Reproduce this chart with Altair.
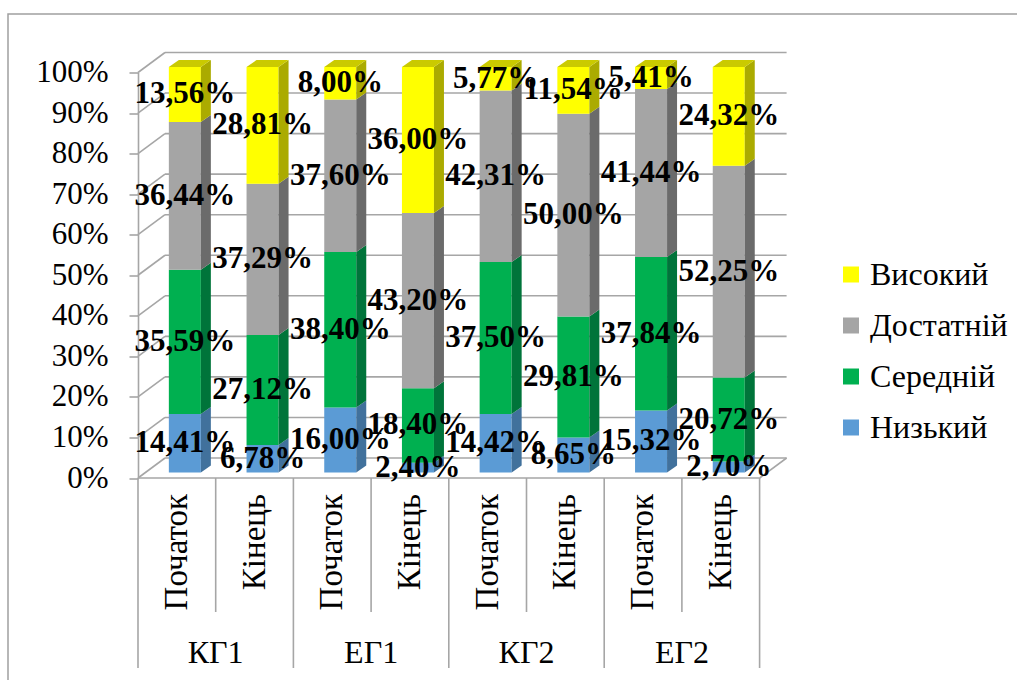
import altair as alt
import pandas as pd

# ---- data -------------------------------------------------------------
groups = ["КГ1", "ЕГ1", "КГ2", "ЕГ2"]
stages = ["Початок", "Кінець"]
levels = ["Низький", "Середній", "Достатній", "Високий"]  # stacking order, bottom -> top

low = [14.41, 6.78, 16.00, 2.40, 14.42, 8.65, 15.32, 2.70]
middle = [35.59, 27.12, 38.40, 18.40, 37.50, 29.81, 37.84, 20.72]
sufficient = [36.44, 37.29, 37.60, 43.20, 42.31, 50.00, 41.44, 52.25]
high = [13.56, 28.81, 8.00, 36.00, 5.77, 11.54, 5.41, 24.32]

y_ticks = list(range(0, 101, 10))

# ---- style ------------------------------------------------------------
front_colors = ["#5B9BD5", "#00B050", "#A5A5A5", "#FFFF00"]
side_colors = ["#41719C", "#00743A", "#6B6B6B", "#ABAB00"]
top_color = "#CACA00"
grid_color = "#A6A6A6"
FONT = "Times New Roman, Liberation Serif, serif"

W, H = 621.6, 405.5          # plot area (front plane of the 3-D box)
LEFT, TOP = 138, 72.5
BAR_DX, BAR_DY = 8, -5.5     # bars sit a little behind the front plane
WALL_DX, WALL_DY = 27, -20   # back wall offset
HALF = 0.206                 # half bar width, category units
DEPTH_X = 10 / 77.7          # bar depth, category units
DEPTH_Y = 7 / 4.055          # bar depth, percent units

series = [low, middle, sufficient, high]
n_bars = len(low)

# ---- derived tables ---------------------------------------------------
seg_rows, side_rows, label_rows = [], [], []
for i in range(n_bars):
    c = i + 0.5
    l, r = c - HALF, c + HALF
    base = 0.0
    for k, name in enumerate(levels):
        v = series[k][i]
        lo, hi = base, base + v
        base = hi
        seg_rows.append(dict(bar=i, level=name, order=k, l=l, r=r, lo=lo, hi=hi))
        label_rows.append(dict(x=c, y=(lo + hi) / 2,
                               text=f"{v:.2f}".replace(".", ",") + "%"))
        sid = f"s{i}_{k}"
        side_rows.append(dict(seg=sid, x=r, y=lo, y2=hi, shade=side_colors[k]))
        side_rows.append(dict(seg=sid, x=r + DEPTH_X, y=lo + DEPTH_Y,
                              y2=hi + DEPTH_Y, shade=side_colors[k]))
    # top face of the column
    tid = f"t{i}"
    for x, y, y2 in [(l, base, base), (l + DEPTH_X, base, base + DEPTH_Y),
                     (r, base, base + DEPTH_Y), (r + DEPTH_X, base + DEPTH_Y, base + DEPTH_Y)]:
        side_rows.append(dict(seg=tid, x=x, y=y, y2=y2, shade=top_color))

segs = pd.DataFrame(seg_rows)
sides = pd.DataFrame(side_rows)
labels = pd.DataFrame(label_rows)
grid = pd.DataFrame({"v": y_ticks, "x0": 0, "x1": n_bars})
floor = pd.DataFrame({"x0": [0], "x1": [n_bars], "v": [0]})

stage_df = pd.DataFrame({"x": [i + 0.5 for i in range(n_bars)],
                         "text": [stages[i % 2] for i in range(n_bars)]})
group_df = pd.DataFrame({"x": [2 * g + 1 for g in range(len(groups))], "text": groups})
outer_sep = pd.DataFrame({"x": list(range(0, n_bars + 1, 2))})
inner_sep = pd.DataFrame({"x": list(range(1, n_bars, 2))})

xs = alt.Scale(domain=[0, n_bars], nice=False, zero=False)
ys = alt.Scale(domain=[0, 100], nice=False, zero=True)

# one shared percent axis on the front-left edge
y_axis = alt.Axis(
    values=y_ticks, labelExpr="datum.value + '%'", title=None, grid=False,
    domainColor=grid_color, domainWidth=1.6, tickColor=grid_color, tickWidth=1.6,
    tickSize=9, labelPadding=21, labelFont=FONT, labelFontSize=31,
    labelColor="black")


def X(field):
    return alt.X(field, scale=xs, axis=None)


def Y(field, **kw):
    return alt.Y(field, scale=ys, axis=y_axis, **kw)


legend_order = levels[::-1]
legend_colors = front_colors[::-1]

# ---- layers -----------------------------------------------------------
back_grid = alt.Chart(grid).mark_rule(
    color=grid_color, strokeWidth=1.6,
    xOffset=WALL_DX, x2Offset=WALL_DX, yOffset=WALL_DY,
).encode(x=X("x0:Q"), x2="x1:Q", y=Y("v:Q"))

side_grid = alt.Chart(grid).mark_rule(
    color=grid_color, strokeWidth=1.6, x2Offset=WALL_DX, y2Offset=WALL_DY,
).encode(x=X("x0:Q"), x2="x0:Q", y=Y("v:Q"), y2="v:Q")

floor_front = alt.Chart(floor).mark_rule(color=grid_color, strokeWidth=1.6).encode(
    x=X("x0:Q"), x2="x1:Q", y=Y("v:Q"))

floor_right = alt.Chart(floor).mark_rule(
    color=grid_color, strokeWidth=1.6, x2Offset=WALL_DX, y2Offset=WALL_DY,
).encode(x=X("x1:Q"), x2="x1:Q", y=Y("v:Q"), y2="v:Q")

bars = alt.Chart(segs).mark_rect(
    xOffset=BAR_DX, x2Offset=BAR_DX, yOffset=BAR_DY, y2Offset=BAR_DY,
).encode(
    x=X("l:Q"), x2="r:Q",
    y=Y("lo:Q"), y2="hi:Q",
    color=alt.Color("level:N", scale=alt.Scale(domain=legend_order, range=legend_colors),
                    legend=alt.Legend(
                        title=None, orient="none", legendX=697, legendY=186,
                        symbolType="square", symbolSize=256, symbolStrokeWidth=0,
                        labelFont=FONT, labelFontSize=32, labelColor="black",
                        rowPadding=19, labelOffset=3, padding=0)),
)

faces = alt.Chart(sides).mark_area(
    xOffset=BAR_DX, yOffset=BAR_DY, y2Offset=BAR_DY,
).encode(
    x=X("x:Q"), y=Y("y:Q", stack=None), y2="y2:Q",
    detail="seg:N",
    color=alt.Color("shade:N", scale=None, legend=None),
)

value_labels = alt.Chart(labels).mark_text(
    font=FONT, fontSize=31, fontWeight="bold", color="black",
    dx=BAR_DX, dy=BAR_DY, baseline="middle", align="center",
).encode(x=X("x:Q"), y=Y("y:Q"), text="text:N")

outer_lines = alt.Chart(outer_sep).mark_rule(color=grid_color, strokeWidth=1.6).encode(
    x=X("x:Q"), y=alt.value(H), y2=alt.value(668 - TOP))
inner_lines = alt.Chart(inner_sep).mark_rule(color=grid_color, strokeWidth=1.6).encode(
    x=X("x:Q"), y=alt.value(H), y2=alt.value(612 - TOP))

stage_text = alt.Chart(stage_df).mark_text(
    font=FONT, fontSize=33, color="black", angle=270, align="right", baseline="middle",
).encode(x=X("x:Q"), y=alt.value(494 - TOP), text="text:N")

group_text = alt.Chart(group_df).mark_text(
    font=FONT, fontSize=32, color="black", align="center", baseline="middle",
).encode(x=X("x:Q"), y=alt.value(653 - TOP), text="text:N")

frame = alt.Chart(pd.DataFrame({"a": [0]})).mark_rect(
    filled=False, stroke="#A0A0A0", strokeWidth=1.5,
).encode(x=alt.value(8 - LEFT), x2=alt.value(1040 - LEFT),
         y=alt.value(14 - TOP), y2=alt.value(700 - TOP))

chart = alt.layer(
    frame, back_grid, side_grid, floor_front, floor_right,
    outer_lines, inner_lines, stage_text, group_text,
    bars, faces, value_labels,
).resolve_scale(color="independent").properties(
    width=W, height=H,
    autosize=alt.AutoSizeParams(type="none"),
    padding={"left": LEFT, "top": TOP, "right": 1017 - LEFT - W, "bottom": 680 - TOP - H},
    background="white",
).configure_view(stroke=None)

chart.save("out.html", embed_options={"renderer": "svg", "actions": False})
